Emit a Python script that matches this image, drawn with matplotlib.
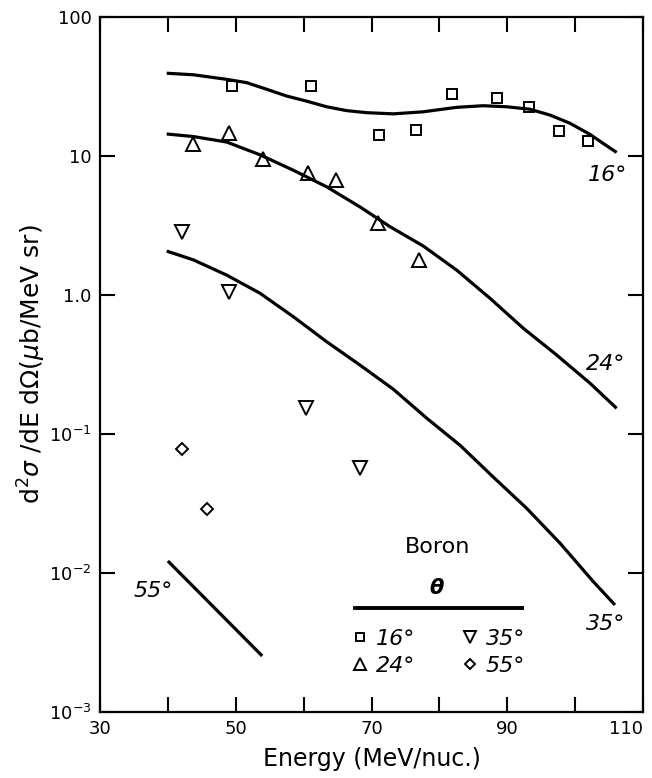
import matplotlib
matplotlib.use("Agg")
import matplotlib.pyplot as plt
from matplotlib.lines import Line2D

plt.rcParams['font.family'] = ['DejaVu Sans']
plt.rcParams['mathtext.fontset'] = 'dejavusans'

# measured data points (Energy MeV/nuc, cross section)
e16 = [49.4, 61.1, 71.1, 76.5, 81.8, 88.5, 93.2, 97.6, 101.9]
s16 = [31.9, 31.9, 14.2, 15.4, 27.9, 26.1, 22.5, 15.1, 12.8]
e24 = [43.7, 49.0, 54.0, 60.6, 64.8, 70.9, 77.0]
s24 = [12.2, 14.6, 9.5, 7.5, 6.7, 3.3, 1.8]
e35 = [42.1, 49.0, 60.3, 68.3]
s35 = [2.84, 1.05, 0.154, 0.057]
e55 = [42.1, 45.8]
s55 = [0.078, 0.029]

# theory curves
ce16 = [39.83, 43.75, 48.67, 51.61, 54.56, 57.51, 60.45, 63.40, 66.35, 69.29, 73.21,
        77.63, 82.55, 86.47, 89.92, 93.35, 96.30, 99.24, 102.19, 104.15, 106.12]
cs16 = [39.4, 38.4, 35.6, 33.7, 30.2, 27.0, 24.8, 22.6, 21.2, 20.5, 20.1,
        20.8, 22.4, 23.0, 22.6, 21.7, 19.7, 17.2, 14.3, 12.3, 10.6]
ce24 = [39.83, 43.75, 48.67, 53.57, 58.48, 63.40, 68.31, 72.73, 77.63, 82.55,
        87.46, 92.37, 97.28, 102.19, 106.12]
cs24 = [14.4, 13.8, 12.6, 10.2, 7.9, 6.0, 4.3, 3.1, 2.25, 1.51,
        0.947, 0.576, 0.370, 0.232, 0.153]
ce35 = [39.83, 43.75, 48.67, 53.57, 58.48, 63.40, 68.31, 73.21, 78.13, 83.04,
        87.94, 92.86, 97.77, 102.68, 105.87]
cs35 = [2.07, 1.79, 1.39, 1.03, 0.698, 0.461, 0.313, 0.210, 0.130, 0.083,
        0.049, 0.0292, 0.0164, 0.00867, 0.00589]
ce55 = [40.0, 53.9]
cs55 = [0.0122, 0.00253]

xticks = [30, 40, 50, 60, 70, 80, 90, 100, 110]
xticklabels = ['30', '', '50', '', '70', '', '90', '', '110']
yticks = [1e-3, 1e-2, 1e-1, 1, 10, 100]
yticklabels = [r'$10^{-3}$', r'$10^{-2}$', r'$10^{-1}$', '1.0', '10', '100']

fig = plt.figure(figsize=(6.52, 7.78), dpi=100)
ax = fig.add_axes([100/652, 1-712/778, 543/652, 695/778])

lw = 2.3
for ce, cs in [(ce16, cs16), (ce24, cs24), (ce35, cs35), (ce55, cs55)]:
    ax.plot(ce, cs, color='black', lw=lw, solid_capstyle='butt', solid_joinstyle='round')

mk = dict(mfc='none', mec='black', mew=1.4, ls='none', color='black')
ax.plot(e16, s16, marker='s', ms=7, **mk)
ax.plot(e24, s24, marker='^', ms=10.5, **mk)
ax.plot(e35, s35, marker='v', ms=10.5, **mk)
ax.plot(e55, s55, marker='D', ms=6.5, **mk)

ax.set_yscale('log')
ax.set_xlim(30, 110)
ax.set_ylim(1e-3, 100)
ax.set_xticks(xticks)
ax.set_xticklabels(xticklabels, fontsize=13)
ax.get_xticklabels()[-1].set_horizontalalignment('right')
ax.set_yticks(yticks)
ax.set_yticklabels(yticklabels, fontsize=13)
ax.minorticks_off()
ax.tick_params(direction='in', length=11, width=1.5, top=True, right=True, pad=6)
for sp in ax.spines.values():
    sp.set_linewidth(1.6)

ax.set_xlabel('Energy (MeV/nuc.)', fontsize=17, labelpad=6)
ax.set_ylabel(r'd$^2\sigma$ /dE d$\Omega$($\mu$b/MeV sr)', fontsize=18, labelpad=1)

lab = dict(fontsize=16, style='italic', ha='center', va='center')
ax.text(104.8, 7.3, '16°', **lab)
ax.text(104.5, 0.32, '24°', **lab)
ax.text(104.5, 0.0043, '35°', **lab)
ax.text(37.8, 0.0074, '55°', **lab)

ax.text(0.622, 0.237, 'Boron', transform=ax.transAxes, fontsize=16, ha='center', va='center')
ax.text(0.621, 0.178, r'$\boldsymbol{\theta}$', transform=ax.transAxes, fontsize=15, ha='center', va='center')
ax.add_line(Line2D([0.470, 0.777], [0.149, 0.149], transform=ax.transAxes, color='black', lw=2.8))

handles = [
    Line2D([], [], marker='s', ms=6, **mk),
    Line2D([], [], marker='^', ms=8, **mk),
    Line2D([], [], marker='v', ms=8, **mk),
    Line2D([], [], marker='D', ms=5, **mk),
]
labels = ['16°', '24°', '35°', '55°']
leg = ax.legend(handles, labels, ncol=2, frameon=False, loc='center left',
                bbox_to_anchor=(0.446, 0.086), handlelength=0.6, handletextpad=0.4,
                columnspacing=2.2, labelspacing=0.3, fontsize=16, borderpad=0)
for t in leg.get_texts():
    t.set_style('italic')

fig.savefig('out.png', dpi=100)
